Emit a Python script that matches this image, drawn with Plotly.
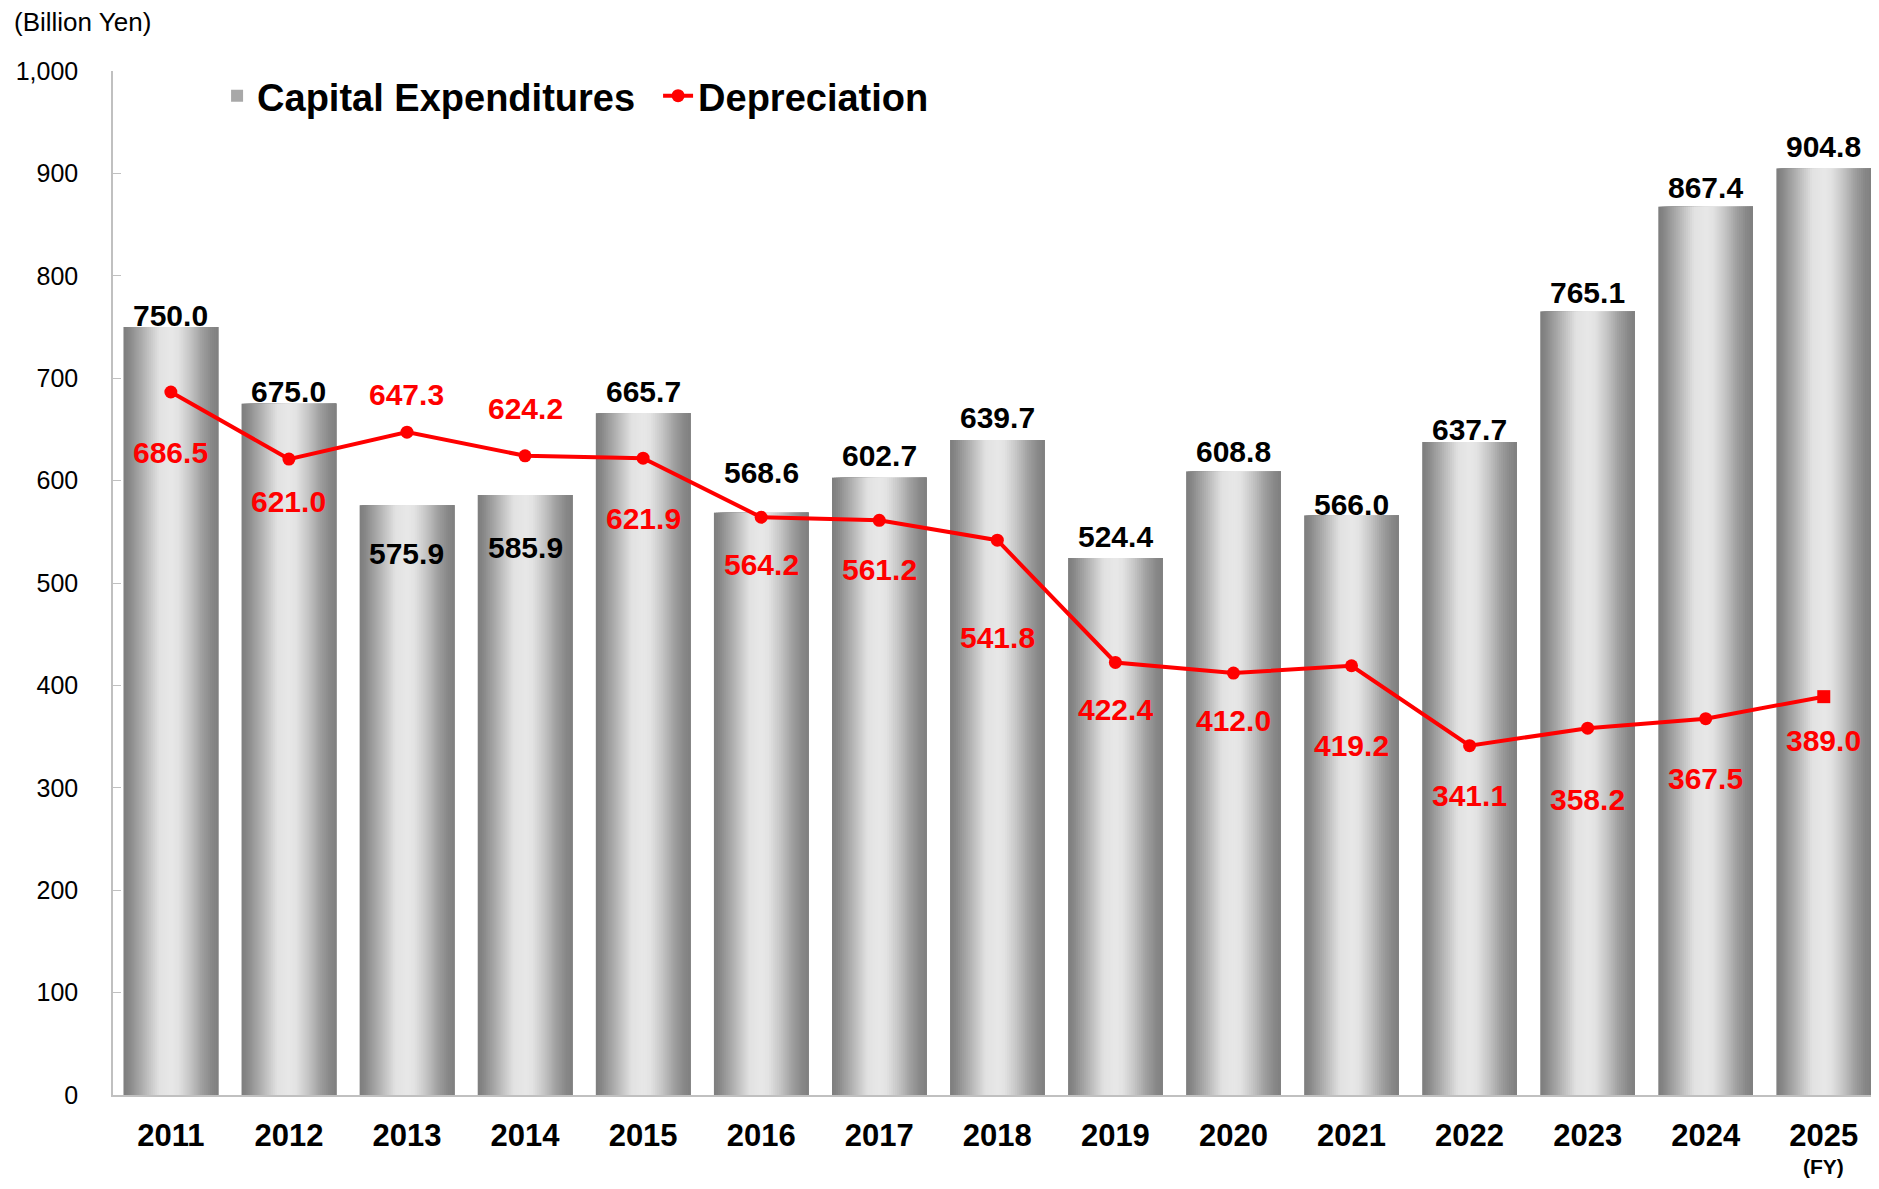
import plotly.graph_objects as go

# ---------------- data ----------------
years = ["2011", "2012", "2013", "2014", "2015", "2016", "2017", "2018",
         "2019", "2020", "2021", "2022", "2023", "2024", "2025"]
capex = [750.0, 675.0, 575.9, 585.9, 665.7, 568.6, 602.7, 639.7,
         524.4, 608.8, 566.0, 637.7, 765.1, 867.4, 904.8]
depreciation = [686.5, 621.0, 647.3, 624.2, 621.9, 564.2, 561.2, 541.8,
                422.4, 412.0, 419.2, 341.1, 358.2, 367.5, 389.0]
y_ticks = [0, 100, 200, 300, 400, 500, 600, 700, 800, 900, 1000]

# ---------------- styling ----------------
FONT = "Liberation Sans, Arial"
RED = "#ff0000"
BAR_W = 0.8
xpos = list(range(len(years)))
# label vertical shifts in px (positive = up)
capex_shift = [12, 12, -48, -52, 22, 40, 22, 22, 22, 20, 11, 13, 19, 19, 22]
dep_shift = [-60, -42, 38, 47, -60, -47, -49, -97, -47, -47, -80, -50, -71, -60, -44]

# horizontal gradient stops (fraction across bar, gray level)
stops = [(0.0, 125), (0.06, 135), (0.2, 175), (0.38, 226), (0.5, 232),
         (0.58, 226), (0.7, 198), (0.82, 162), (0.93, 136), (1.0, 128)]


def gray_at(f):
    for (f0, g0), (f1, g1) in zip(stops[:-1], stops[1:]):
        if f0 <= f <= f1:
            t = (f - f0) / (f1 - f0) if f1 > f0 else 0
            g = round(g0 + t * (g1 - g0))
            return f"rgb({g},{g},{g})"
    return "rgb(128,128,128)"


fig = go.Figure()

# base bar (legend entry)
fig.add_trace(go.Bar(
    x=xpos, y=capex, width=BAR_W, name="Capital Expenditures",
    marker=dict(color="#a8a8a8", line=dict(width=0)),
    hoverinfo="y",
))
N = 48
d = BAR_W / N
for i in range(N):
    fig.add_trace(go.Bar(
        x=xpos, y=capex, width=BAR_W - i * d, offset=-BAR_W / 2 + i * d,
        marker=dict(color=gray_at((i + 0.5) / N), line=dict(width=0)),
        showlegend=False, hoverinfo="skip",
    ))

symbols = ["circle"] * (len(years) - 1) + ["square"]
fig.add_trace(go.Scatter(
    x=xpos, y=depreciation, mode="lines+markers", name="Depreciation",
    line=dict(color=RED, width=4),
    marker=dict(color=RED, size=13, symbol=symbols),
))

annotations = []
for xi, v, s in zip(xpos, capex, capex_shift):
    annotations.append(dict(
        x=xi, y=v, xref="x", yref="y", text=f"{v:.1f}", showarrow=False,
        yshift=s, yanchor="middle",
        font=dict(family=FONT, size=30, color="#000000", weight="bold"),
    ))
for xi, v, s in zip(xpos, depreciation, dep_shift):
    annotations.append(dict(
        x=xi, y=v, xref="x", yref="y", text=f"{v:.1f}", showarrow=False,
        yshift=s, yanchor="middle",
        font=dict(family=FONT, size=30, color=RED, weight="bold"),
    ))
annotations.append(dict(
    x=xpos[-1], y=0, xref="x", yref="y", text="(FY)", showarrow=False,
    yshift=-71, yanchor="middle",
    font=dict(family=FONT, size=21, color="#000000", weight="bold"),
))
annotations.append(dict(
    x=0, y=1, xref="paper", yref="paper", text="(Billion Yen)", showarrow=False,
    xshift=-101, yshift=49, xanchor="left", yanchor="middle",
    font=dict(family=FONT, size=26, color="#000000"),
))

fig.update_layout(
    width=1863, height=1173,
    margin=dict(l=105, r=0, t=63, b=86),
    paper_bgcolor="white", plot_bgcolor="white",
    barmode="overlay",
    showlegend=True,
    legend=dict(
        orientation="h", x=0.0592, y=0.9756, xanchor="left", yanchor="middle",
        bgcolor="rgba(0,0,0,0)", entrywidth=396, entrywidthmode="pixels",
        font=dict(family=FONT, size=38, color="#000000", weight="bold"),
    ),
    annotations=annotations,
    xaxis=dict(
        range=[-0.49, 14.4], tickvals=xpos, ticktext=years,
        showline=True, linecolor="#c0c0c0", linewidth=2,
        ticks="", showgrid=False, zeroline=False, ticklabelstandoff=12,
        automargin=False,
        tickfont=dict(family=FONT, size=31, color="#000000", weight="bold"),
    ),
    yaxis=dict(
        range=[0, 1000], tickvals=y_ticks, tickformat=",",
        showline=True, linecolor="#c0c0c0", linewidth=1.5,
        ticks="inside", ticklen=8, tickcolor="#c0c0c0",
        showgrid=False, zeroline=False, ticklabelstandoff=28,
        automargin=False,
        tickfont=dict(family=FONT, size=25, color="#000000"),
    ),
)

fig.write_html("out.html")
